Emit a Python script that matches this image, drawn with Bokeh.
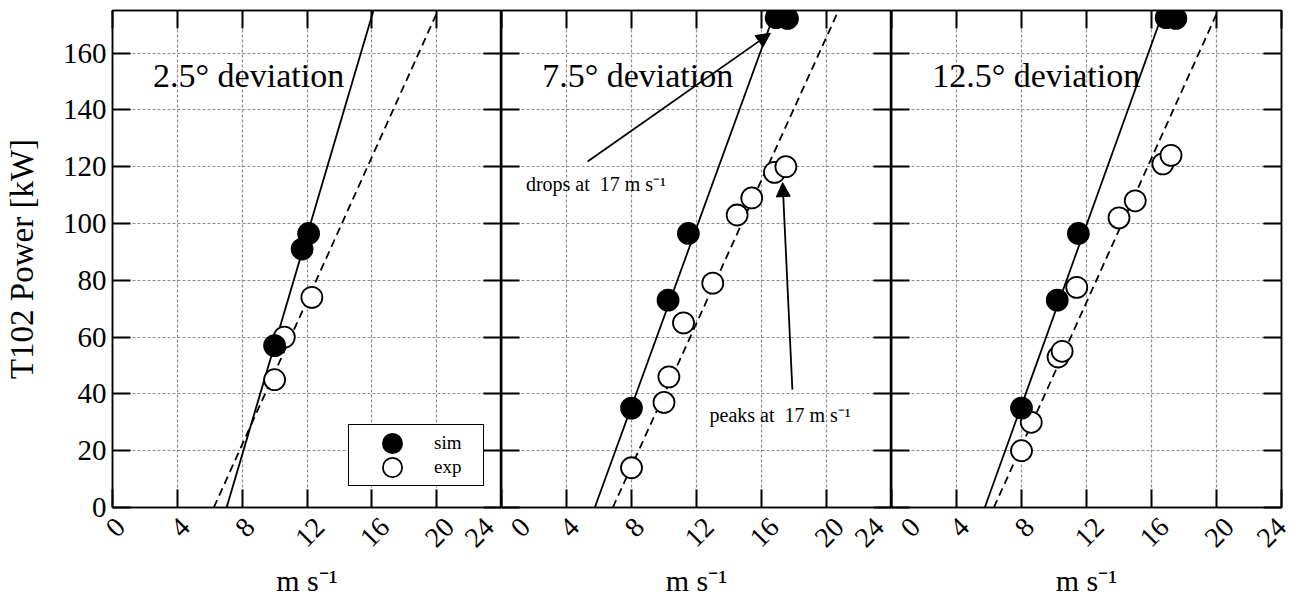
import math
from bokeh.plotting import figure
from bokeh.layouts import row
from bokeh.models import (LinearAxis, FixedTicker, Range1d, Legend, LegendItem,
                          Arrow, NormalHead, Label, CustomLabelingPolicy)
from bokeh.embed import file_html
from bokeh.resources import INLINE

FONT = "Liberation Serif"
NBSP = "\u00a0"

# ---------------- data ----------------
panel_titles = ["2.5° deviation", "7.5° deviation", "12.5° deviation"]
x_ticks = [0, 4, 8, 12, 16, 20, 24]
x_tick_labels = ["0", "4", "8", "12", "16", "20", "24"]
y_ticks = [0, 20, 40, 60, 80, 100, 120, 140, 160]
x_label = "m s⁻¹"
y_label = "T102 Power [kW]"
legend_labels = ["sim", "exp"]

# 2.5 deg
sim_speed_25 = [10.0, 11.7, 12.1]
sim_power_25 = [57, 91, 96.5]
exp_speed_25 = [10.0, 10.6, 12.3]
exp_power_25 = [45, 60, 74]
sim_fit_speed_25 = [7.04, 16.1]
exp_fit_speed_25 = [6.25, 20.08]

# 7.5 deg
sim_speed_75 = [8.0, 10.25, 11.5, 16.9, 17.6]
sim_power_75 = [35, 73, 96.5, 172.5, 172.2]
exp_speed_75 = [8.0, 10.0, 10.3, 11.2, 13.0, 14.5, 15.4, 16.8, 17.5]
exp_power_75 = [14, 37, 46, 65, 79, 103, 109, 118, 120]
sim_fit_speed_75 = [5.74, 16.86]
exp_fit_speed_75 = [6.85, 20.74]

# 12.5 deg
sim_speed_125 = [8.0, 10.2, 11.5, 16.9, 17.5]
sim_power_125 = [35, 73, 96.5, 172.5, 172.2]
exp_speed_125 = [8.0, 8.6, 10.25, 10.5, 11.4, 14.0, 15.0, 16.7, 17.2]
exp_power_125 = [20, 30, 53, 55, 77.5, 102, 108, 121, 124]
sim_fit_speed_125 = [5.74, 16.75]
exp_fit_speed_125 = [6.3, 20.1]

fit_power = [0, 175]

# annotations (7.5 deg panel)
drops_text = "drops at" + NBSP + NBSP + "17 m s⁻¹"
drops_text_pos = (1.5, 114)
drops_arrow = (5.3, 121.8, 16.55, 167.0)
peaks_text = "peaks at" + NBSP + NBSP + "17 m s⁻¹"
peaks_text_pos = (12.8, 32.7)
peaks_arrow = (17.9, 41.5, 17.3, 114.4)

panels = [
    (sim_speed_25, sim_power_25, exp_speed_25, exp_power_25, sim_fit_speed_25, exp_fit_speed_25),
    (sim_speed_75, sim_power_75, exp_speed_75, exp_power_75, sim_fit_speed_75, exp_fit_speed_75),
    (sim_speed_125, sim_power_125, exp_speed_125, exp_power_125, sim_fit_speed_125, exp_fit_speed_125),
]

HIDE_ALL = "const all = [...indices]; for (const i of all) { indices.unset(i) }; return indices"


def hide_labels(ax):
    ax.major_label_policy = CustomLabelingPolicy(code=HIDE_ALL)
    ax.major_label_standoff = 0
    ax.major_label_text_font_size = "0px"


def tick_only_axis(ticks):
    ax = LinearAxis(ticker=FixedTicker(ticks=ticks),
                    major_tick_in=18, major_tick_out=0,
                    minor_tick_line_color=None,
                    major_tick_line_width=2, major_tick_line_color="black",
                    axis_line_color="black", axis_line_width=1.5)
    hide_labels(ax)
    return ax


def style_axis(ax, ticks):
    ax.ticker = FixedTicker(ticks=ticks)
    ax.major_tick_in = 18
    ax.major_tick_out = 0
    ax.minor_tick_line_color = None
    ax.major_tick_line_width = 2
    ax.major_tick_line_color = "black"
    ax.axis_line_color = "black"
    ax.axis_line_width = 1.5
    ax.major_label_text_font = FONT
    ax.major_label_text_color = "black"
    ax.major_label_text_font_size = "29px"


figs = []
for i, (ss, sp, es, ep, sfs, efs) in enumerate(panels):
    left = 112 if i == 0 else 0
    right = 24 if i == 2 else 0
    fw = 389 if i == 0 else 390
    px_per_unit = fw / 24.0
    p = figure(x_range=Range1d(0, 24), y_range=Range1d(0, 175),
               frame_width=fw, frame_height=497,
               min_border_left=left, min_border_right=right,
               min_border_top=10, min_border_bottom=84,
               output_backend="svg", toolbar_location=None,
               background_fill_color="white", border_fill_color="white")
    p.outline_line_color = "black"
    p.outline_line_width = 1.5
    p.outline_line_alpha = 1

    # grid
    p.xgrid.ticker = FixedTicker(ticks=x_ticks)
    p.ygrid.ticker = FixedTicker(ticks=y_ticks)
    for g in (p.xgrid, p.ygrid):
        g.grid_line_color = "#8c8c8c"
        g.grid_line_dash = "3 2"
        g.grid_line_width = 1.2

    # bottom axis with tick marks only
    xa = p.xaxis[0]
    style_axis(xa, x_ticks)
    hide_labels(xa)

    # second bottom axis carrying the rotated tick labels (nudged so that the
    # right-aligned rotated text sits centred under each tick)
    label_pos = []
    overrides = {}
    for t, lab in zip(x_ticks, x_tick_labels):
        half = 0.707 * 14 * len(lab) / 2
        shift = 3 + half
        if t == 0 and i > 0:
            shift += 16
        if t == 24:
            shift = (-22 + half) if i < 2 else 0
        pos = round(t + shift / px_per_unit, 4)
        label_pos.append(pos)
        overrides[pos] = lab
    xl = LinearAxis(ticker=FixedTicker(ticks=label_pos),
                    major_label_overrides=overrides,
                    major_tick_line_color=None, minor_tick_line_color=None,
                    major_tick_in=0, major_tick_out=0,
                    axis_line_color=None,
                    major_label_orientation=math.pi / 4,
                    major_label_standoff=15,
                    major_label_text_font=FONT,
                    major_label_text_font_size="28px",
                    major_label_text_color="black",
                    axis_label=x_label, axis_label_text_font=FONT,
                    axis_label_text_font_size="30px",
                    axis_label_text_font_style="normal",
                    axis_label_text_color="black",
                    axis_label_standoff=6)
    p.add_layout(xl, "below")

    ya = p.yaxis[0]
    style_axis(ya, y_ticks)
    if i == 0:
        ya.major_label_standoff = 6
        ya.axis_label = y_label
        ya.axis_label_text_font = FONT
        ya.axis_label_text_font_size = "33px"
        ya.axis_label_text_font_style = "normal"
        ya.axis_label_text_color = "black"
        ya.axis_label_standoff = 20
    else:
        hide_labels(ya)

    p.add_layout(tick_only_axis(y_ticks), "right")
    p.add_layout(tick_only_axis(x_ticks), "above")

    # fit lines
    p.line(sfs, fit_power, line_color="black", line_width=1.8)
    p.line(efs, fit_power, line_color="black", line_width=1.8, line_dash="8 5")

    # markers (screen-sized circles)
    r_exp = p.ellipse(x=es, y=ep, width=21, height=21,
                      width_units="screen", height_units="screen",
                      fill_color="white", line_color="black", line_width=1.8)
    r_sim = p.ellipse(x=ss, y=sp, width=21, height=21,
                      width_units="screen", height_units="screen",
                      fill_color="black", line_color="black", line_width=1.8)

    # panel title
    p.add_layout(Label(x=2.5, y=152, text=panel_titles[i], text_font=FONT,
                       text_font_size="34px", text_baseline="middle",
                       text_color="black"))

    if i == 0:
        legend = Legend(items=[LegendItem(label=legend_labels[0], renderers=[r_sim]),
                               LegendItem(label=legend_labels[1], renderers=[r_exp])],
                        location=(236, 21), orientation="vertical",
                        padding=6, margin=0, spacing=0,
                        glyph_width=74, glyph_height=24,
                        label_standoff=5, label_width=43, label_height=20,
                        label_text_font=FONT, label_text_font_size="19px",
                        label_text_color="black", label_text_baseline="middle",
                        border_line_color="black", border_line_width=1.5,
                        border_line_alpha=1,
                        background_fill_color="white", background_fill_alpha=1)
        p.add_layout(legend)

    if i == 1:
        p.add_layout(Arrow(end=NormalHead(size=14, fill_color="black", line_color="black"),
                           x_start=drops_arrow[0], y_start=drops_arrow[1],
                           x_end=drops_arrow[2], y_end=drops_arrow[3],
                           line_color="black", line_width=1.8))
        p.add_layout(Arrow(end=NormalHead(size=14, fill_color="black", line_color="black"),
                           x_start=peaks_arrow[0], y_start=peaks_arrow[1],
                           x_end=peaks_arrow[2], y_end=peaks_arrow[3],
                           line_color="black", line_width=1.8))
        p.add_layout(Label(x=drops_text_pos[0], y=drops_text_pos[1], text=drops_text,
                           text_font=FONT, text_font_size="20px",
                           text_baseline="middle", text_color="black"))
        p.add_layout(Label(x=peaks_text_pos[0], y=peaks_text_pos[1], text=peaks_text,
                           text_font=FONT, text_font_size="20px",
                           text_baseline="middle", text_color="black"))
    figs.append(p)

layout = row(*figs, spacing=0)
open("out.html", "w").write(file_html(layout, INLINE))
